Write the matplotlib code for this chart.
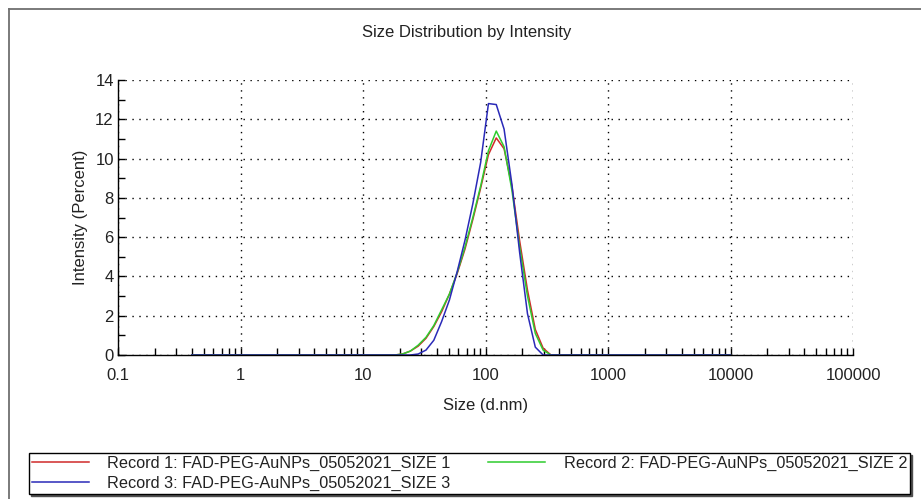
import numpy as np
import matplotlib
matplotlib.use('Agg')
from matplotlib import pyplot as plt
from matplotlib.lines import Line2D
from matplotlib.ticker import LogLocator, MultipleLocator, FixedFormatter, FixedLocator

plt.rcParams['font.family'] = ['Liberation Sans', 'DejaVu Sans']

# size bins (d.nm)
size_nm = [0.4000, 0.4632, 0.5365, 0.6213, 0.7195, 0.8332, 0.9649, 1.117, 1.294, 1.499,
           1.736, 2.010, 2.328, 2.696, 3.122, 3.615, 4.187, 4.849, 5.615, 6.503,
           7.531, 8.721, 10.10, 11.70, 13.54, 15.69, 18.17, 21.04, 24.36, 28.21,
           32.67, 37.84, 43.82, 50.75, 58.77, 68.06, 78.82, 91.28, 105.7, 122.4,
           141.8, 164.2, 190.1, 220.2, 255.0, 295.3, 342.0, 396.1, 458.7, 531.2,
           615.1, 712.4, 825.0, 955.4, 1106, 1281, 1484, 1718, 1990, 2305,
           2669, 3091, 3580, 4145, 4801, 5560, 6439, 7456, 8635, 10000]

# intensity (%) in the peak region, bins 21.04 .. 342.0
rec1_peak = [0.05, 0.2, 0.45, 0.85, 1.45, 2.2, 3.1, 4.15, 5.4, 6.9, 8.5, 10.2, 11.05,
             10.5, 8.6, 5.8, 3.3, 1.3, 0.35, 0.0]
rec2_peak = [0.05, 0.2, 0.5, 0.9, 1.5, 2.3, 3.1, 4.2, 5.5, 7.0, 8.6, 10.4, 11.4,
             10.6, 8.4, 5.5, 3.0, 1.1, 0.25, 0.0]
rec3_peak = [0.0, 0.0, 0.05, 0.25, 0.75, 1.7, 2.8, 4.25, 5.85, 7.7, 9.8, 12.8, 12.75,
             11.5, 8.7, 5.2, 2.1, 0.4, 0.0, 0.0]

n_before = 27   # zero bins below 21.04 nm
n_after = len(size_nm) - n_before - len(rec1_peak)
rec1 = [0.0] * n_before + rec1_peak + [0.0] * n_after
rec2 = [0.0] * n_before + rec2_peak + [0.0] * n_after
rec3 = [0.0] * n_before + rec3_peak + [0.0] * n_after

labels = ['Record 1: FAD-PEG-AuNPs_05052021_SIZE 1',
          'Record 2: FAD-PEG-AuNPs_05052021_SIZE 2',
          'Record 3: FAD-PEG-AuNPs_05052021_SIZE 3']
colors = ['#d02a2a', '#2ecc2e', '#2a2ab8']

W, H = 921, 499
fig = plt.figure(figsize=(W / 100, H / 100), dpi=100)
ax = fig.add_axes([118 / W, 1 - 355 / H, (853 - 118) / W, (355 - 80) / H])

h1, = ax.plot(size_nm, rec1, color=colors[0], lw=1.1)
h2, = ax.plot(size_nm, rec2, color=colors[1], lw=1.1)
h3, = ax.plot(size_nm, rec3, color=colors[2], lw=1.1)

ax.set_xscale('log')
ax.set_xlim(0.1, 100000)
ax.set_ylim(0, 14)
ax.xaxis.set_major_locator(FixedLocator([0.1, 1, 10, 100, 1000, 10000, 100000]))
ax.xaxis.set_major_formatter(FixedFormatter(['0.1', '1', '10', '100', '1000', '10000', '100000']))
ax.xaxis.set_minor_locator(LogLocator(base=10, subs=np.arange(2, 10), numticks=20))
ax.yaxis.set_major_locator(MultipleLocator(2))
ax.yaxis.set_minor_locator(MultipleLocator(1))

ax.tick_params(which='both', direction='in', length=5, width=1, color='black',
               labelsize=12, labelcolor='#222222')
ax.tick_params(axis='x', pad=9)
ax.tick_params(axis='y', pad=3)
ax.grid(True, which='major', color='black', linestyle=(0, (1, 4)), linewidth=1)
for s in ['top', 'right']:
    ax.spines[s].set_visible(False)
for s in ['left', 'bottom']:
    ax.spines[s].set_linewidth(1)

ax.set_xlabel('Size (d.nm)', fontsize=12, color='#222222', labelpad=11)
ax.set_ylabel('Intensity (Percent)', fontsize=12, color='#222222', labelpad=5)

fig.text(467 / W, 1 - 33 / H, 'Size Distribution by Intensity', ha='center', va='center',
         fontsize=12, color='#222222')

# outer frame
fig.add_artist(Line2D([9 / W, 9 / W], [0, 1 - 9 / H], transform=fig.transFigure,
                      color='#707070', lw=1.3))
fig.add_artist(Line2D([9 / W, 1], [1 - 9 / H, 1 - 9 / H], transform=fig.transFigure,
                      color='#707070', lw=1.3))

# column-first fill: 1 and 3 in the left column, 2 on the right
leg = fig.legend([h1, h3, h2], [labels[0], labels[2], labels[1]], ncol=2, loc='lower left',
                 bbox_to_anchor=(29 / W, 1 - 494 / H, (910 - 29) / W, 40 / H),
                 mode='expand', borderaxespad=0, borderpad=0.17, handlelength=3.5,
                 handletextpad=1.15, labelspacing=0.33, fontsize=11.7, fancybox=False,
                 edgecolor='black', framealpha=1,
                 shadow={'ox': 1.5, 'oy': -1.5, 'color': '#505050', 'alpha': 1})
leg.get_frame().set_linewidth(1)
for t in leg.get_texts():
    t.set_color('#222222')

fig.savefig('out.png', dpi=100)
